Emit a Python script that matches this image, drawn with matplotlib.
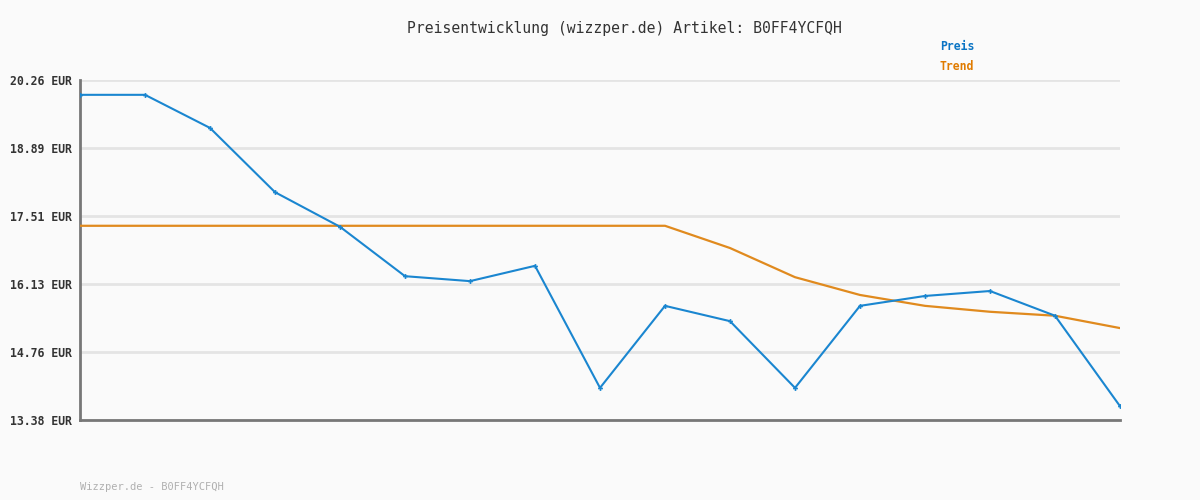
import matplotlib
matplotlib.use('Agg')
import matplotlib.pyplot as plt

# Daten
x_index = list(range(17))
preis = [19.96, 19.96, 19.29, 17.99, 17.29, 16.29, 16.19, 16.50, 14.03,
         15.69, 15.38, 14.03, 15.69, 15.89, 15.99, 15.49, 13.66]
trend = [17.31, 17.31, 17.31, 17.31, 17.31, 17.31, 17.31, 17.31, 17.31,
         17.31, 16.86, 16.27, 15.91, 15.69, 15.57, 15.49, 15.24]
y_ticks = [13.38, 14.76, 16.13, 17.51, 18.89, 20.26]
y_labels = ['%.2f EUR' % v for v in y_ticks]

artikel = 'B0FF4YCFQH'
c_preis = '#1a86d0'
c_trend = '#e08a1e'
bg = '#fafafa'
mono = 'DejaVu Sans Mono'

fig = plt.figure(figsize=(12, 5), dpi=100, facecolor=bg)
ax = fig.add_axes([80 / 1200, 80 / 500, 1040 / 1200, 340 / 500])
ax.set_facecolor(bg)

ax.plot(x_index, trend, color=c_trend, lw=1.6, zorder=3)
ax.plot(x_index, preis, color=c_preis, lw=1.5, marker='P', ms=3.5,
        markeredgewidth=0, zorder=4)

ax.set_xlim(0, len(x_index) - 1)
ax.set_ylim(y_ticks[0], y_ticks[-1])
ax.set_yticks(y_ticks)
ax.set_yticklabels(y_labels, family=mono, fontsize=8.3, fontweight='bold',
                   color='#333333')
ax.set_xticks([])
ax.tick_params(axis='y', length=0, pad=6)
ax.grid(axis='y', color='#e4e4e4', lw=2, zorder=0)

for s in ['top', 'right']:
    ax.spines[s].set_visible(False)
for s in ['left', 'bottom']:
    ax.spines[s].set_color('#777777')
    ax.spines[s].set_linewidth(2)

fig.text(624 / 1200, 1 - 28 / 500,
         'Preisentwicklung (wizzper.de) Artikel: ' + artikel,
         family=mono, fontsize=10.6, color='#333333',
         ha='center', va='center')
fig.text(940 / 1200, 1 - 47 / 500, 'Preis', family=mono, fontsize=8.3,
         fontweight='bold', color='#0a74c4', va='center')
fig.text(940 / 1200, 1 - 67 / 500, 'Trend', family=mono, fontsize=8.3,
         fontweight='bold', color='#e07b00', va='center')
fig.text(80 / 1200, 1 - 487 / 500, 'Wizzper.de - ' + artikel,
         family=mono, fontsize=7.5, color='#b0b0b0', va='center')

fig.savefig('out.png', dpi=100, facecolor=bg)
